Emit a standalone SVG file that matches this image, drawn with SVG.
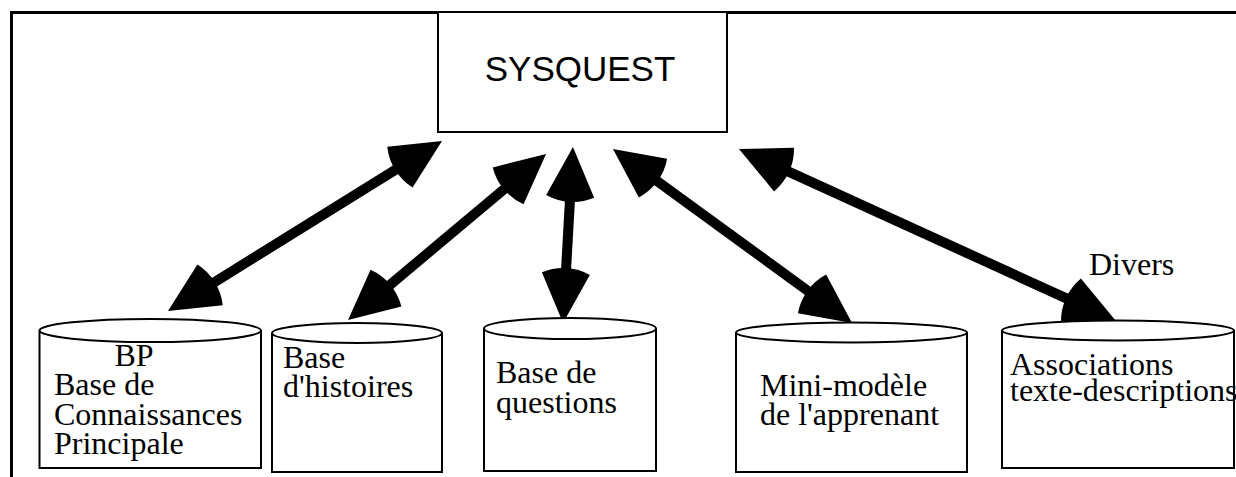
<svg xmlns="http://www.w3.org/2000/svg" width="1236" height="477" viewBox="0 0 1236 477">
<style>
.frame{fill:none;stroke:#000;stroke-width:3}
.box{fill:#fff;stroke:#000;stroke-width:2}
.cyl{fill:#fff;stroke:#000;stroke-width:2}
.conn{fill:none;stroke:#000;stroke-width:10;marker-start:url(#ah);marker-end:url(#ah)}
.sans{font-family:"Liberation Sans",Arial,sans-serif;font-size:35px;fill:#000}
.serif{font-family:"Liberation Serif","Times New Roman",serif;font-size:32px;fill:#000}
</style>
<defs>
<marker id="ah" markerUnits="userSpaceOnUse" orient="auto-start-reverse" viewBox="-20 -30 70 60" refX="0" refY="0" markerWidth="70" markerHeight="60">
<path d="M40,0 L-9.5,-24 A55,55 0 0 0 -9.5,24 Z" fill="#000"/>
</marker>
</defs>
<rect width="1236" height="477" fill="#fff"/>
<path class="frame" d="M11.5,477 V12.5 H1236"/>
<g id="connectors">
<path class="conn" d="M202,289.9 L408,162.1"/>
<path class="conn" d="M378.7,294.3 L515.4,179.7"/>
<path class="conn" d="M565.3,283.1 L570.7,186.9"/>
<path class="conn" d="M819.7,299.5 L645.3,172.5"/>
<path class="conn" d="M1079.6,304.4 L775.4,165.6"/>
</g>
<g id="sysquest">
<rect class="box" x="438" y="12" width="289" height="120"/>
<text class="sans" x="580" y="81" text-anchor="middle">SYSQUEST</text>
</g>
<g id="bp">
<path class="cyl" d="M39.5,330.5 V468 H261 V330.5"/>
<ellipse class="cyl" cx="150.25" cy="330.5" rx="110.75" ry="11.5"/>
<text class="serif" x="134" y="366" text-anchor="middle">BP</text>
<text class="serif" x="54" y="395">Base de</text>
<text class="serif" x="54" y="425">Connaissances</text>
<text class="serif" x="54" y="454">Principale</text>
</g>
<g id="histoires">
<path class="cyl" d="M272,333 V472 H442 V333"/>
<ellipse class="cyl" cx="357" cy="333" rx="85" ry="10"/>
<text class="serif" x="283" y="368">Base</text>
<text class="serif" x="283" y="397">d'histoires</text>
</g>
<g id="questions">
<path class="cyl" d="M484,328.5 V471 H656 V328.5"/>
<ellipse class="cyl" cx="570" cy="328.5" rx="86" ry="10.5"/>
<text class="serif" x="496" y="383">Base de</text>
<text class="serif" x="496" y="413">questions</text>
</g>
<g id="apprenant">
<path class="cyl" d="M736,332.5 V472 H967 V332.5"/>
<ellipse class="cyl" cx="851.5" cy="332.5" rx="115.5" ry="10"/>
<text class="serif" x="760" y="396">Mini-modèle</text>
<text class="serif" x="760" y="425">de l'apprenant</text>
</g>
<g id="associations">
<path class="cyl" d="M1002,330.5 V468 H1234 V330.5"/>
<ellipse class="cyl" cx="1118" cy="330.5" rx="116" ry="10"/>
<text class="serif" x="1010" y="375">Associations</text>
<text class="serif" x="1010" y="401">texte-descriptions</text>
</g>
<g id="divers">
<text class="serif" x="1089" y="275">Divers</text>
</g>
</svg>
